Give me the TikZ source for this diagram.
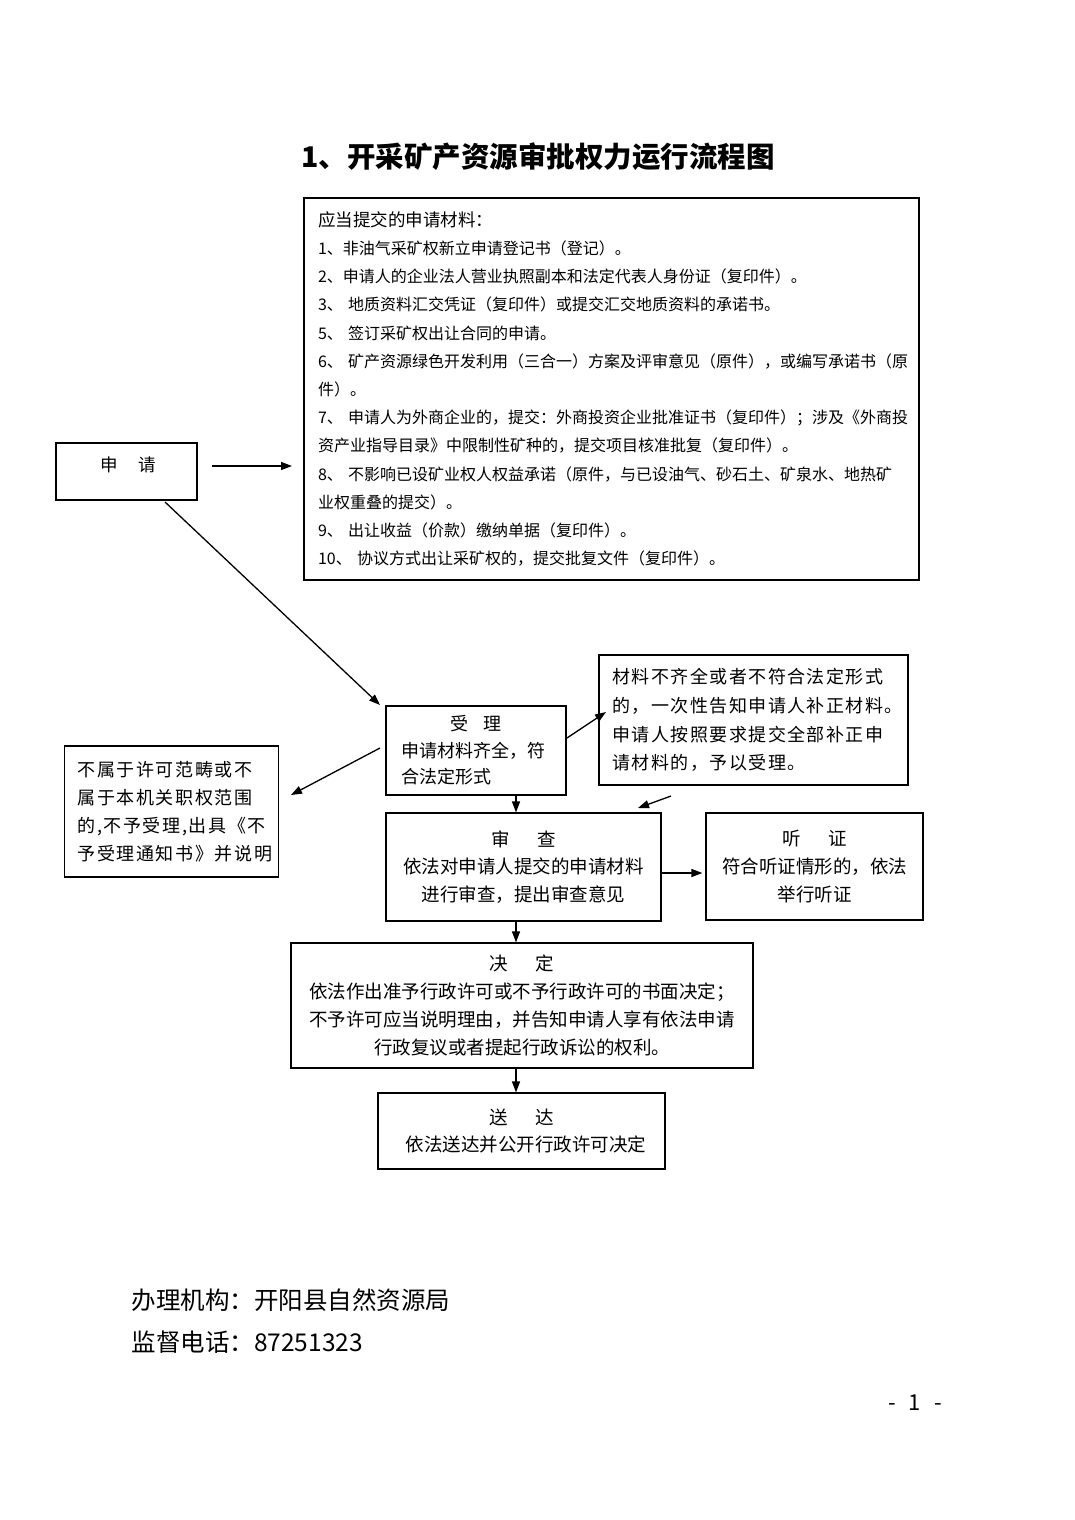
\documentclass[tikz,border=0pt]{standalone}
\usepackage{fontspec}
\setmainfont{Noto Sans CJK SC}
\newfontfamily\spacedA{Noto Sans CJK SC}[LetterSpace=8]
\newfontfamily\spacedB{Noto Sans CJK SC}[LetterSpace=9]
\usetikzlibrary{arrows.meta}
\begin{document}
\begin{tikzpicture}[x=1pt,y=-1pt,
  box/.style={draw, line width=1.2pt, inner sep=0pt},
  arr/.style={-{Triangle[length=11pt,width=8pt]}, line width=1.3pt},
  bodyfont/.style={font=\fontsize{18.5}{27.8}\selectfont}]
\useasboundingbox[fill=white] (0,0) rectangle (1074,1520);

% title
\node[font=\fontsize{28.5}{32}\selectfont\bfseries] (title) at (538,157) {1、开采矿产资源审批权力运行流程图};

% materials box
\node[box, minimum width=615pt, minimum height=382pt, text width=587pt, align=left,
      font=\fontsize{16}{28.2}\selectfont] (mat) at (611.5,389) {%
{\fontsize{17.5}{28.2}\selectfont 应当提交的申请材料：}\\
1、非油气采矿权新立申请登记书（登记）。\\
2、申请人的企业法人营业执照副本和法定代表人身份证（复印件）。\\
3、\ 地质资料汇交凭证（复印件）或提交汇交地质资料的承诺书。\\
5、\ 签订采矿权出让合同的申请。\\
6、\ 矿产资源绿色开发利用（三合一）方案及评审意见（原件），或编写承诺书（原\\
件）。\\
7、\ 申请人为外商企业的，提交：外商投资企业批准证书（复印件）；涉及《外商投\\
资产业指导目录》中限制性矿种的，提交项目核准批复（复印件）。\\
8、\ 不影响已设矿业权人权益承诺（原件，与已设油气、砂石土、矿泉水、地热矿\\
业权重叠的提交）。\\
9、\ 出让收益（价款）缴纳单据（复印件）。\\
10、\ 协议方式出让采矿权的，提交批复文件（复印件）。};

% apply box
\node[box, minimum width=141pt, minimum height=57pt,
      label={[font=\fontsize{17.5}{20}\selectfont, yshift=7pt, xshift=1.5pt]center:申\hspace{1.2em}请}] (sq) at (126.5,471.5) {};

% accept box
\node[box, minimum width=180pt, minimum height=89pt, text width=150pt, align=left,
      font=\fontsize{18}{26.5}\selectfont] (sl) at (476,750.5)
  {\makebox[150pt]{受\hspace{0.8em}理}\\申请材料齐全，符\\合法定形式};

% incomplete materials box
\node[box, minimum width=309pt, minimum height=130pt, text width=282pt, align=left,
      font=\fontsize{18}{28.7}\spacedA] (bz) at (753.5,720)
  {材料不齐全或者不符合法定形式\\的，一次性告知申请人补正材料。\\申请人按照要求提交全部补正申\\请材料的，予以受理。};

% not accepted box
\node[box, minimum width=214pt, minimum height=131pt, text width=188pt, align=left,
      font=\fontsize{18}{28}\spacedB] (bsy) at (171.5,811.5)
  {不属于许可范畴或不\\属于本机关职权范围\\的,不予受理,出具《不\\予受理通知书》并说明};

% review box
\node[box, bodyfont, minimum width=275pt, minimum height=108pt, align=center] (sc) at (523.5,867)
  {审\hspace{1.5em}查\\依法对申请人提交的申请材料\\进行审查，提出审查意见};

% hearing box
\node[box, bodyfont, minimum width=217pt, minimum height=107pt, align=center] (tz) at (814.5,866.5)
  {听\hspace{1.5em}证\\符合听证情形的，依法\\举行听证};

% decision box
\node[box, bodyfont, minimum width=462pt, minimum height=125pt, align=center] (jd) at (522,1005.5)
  {决\hspace{1.5em}定\\依法作出准予行政许可或不予行政许可的书面决定；\\不予许可应当说明理由，并告知申请人享有依法申请\\行政复议或者提起行政诉讼的权利。};

% delivery box
\node[box, bodyfont, minimum width=287pt, minimum height=76pt, align=center] (sd) at (521.5,1131)
  {送\hspace{1.5em}达\\\hspace{0.5em}依法送达并公开行政许可决定};

% connectors
\coordinate (ax) at (516,0);
\coordinate (a1s) at (212,466);
\coordinate (a1e) at (292,466);
\draw[arr] (a1s) -- (a1e);
\coordinate (a2s) at (165,502);
\coordinate (a2e) at (380,705);
\draw[arr] (a2s) -- (a2e);
\coordinate (a3s) at (567,738);
\coordinate (a3e) at (606,712);
\draw[arr] (a3s) -- (a3e);
\coordinate (a4s) at (671,796);
\coordinate (a4e) at (638,808);
\draw[arr] (a4s) -- (a4e);
\coordinate (a5s) at (380,748);
\coordinate (a5e) at (291,795);
\draw[arr] (a5s) -- (a5e);
\draw[arr] (sl.south -| ax) -- (sc.north -| ax);
\draw[arr] ([yshift=-6pt]sc.east) -- ([yshift=-6pt,xshift=-3pt]sc.east -| tz.west);
\draw[arr] (sc.south -| ax) -- (jd.north -| ax);
\draw[arr] (jd.south -| ax) -- (sd.north -| ax);

% footer
\node[anchor=west, font=\fontsize{24.5}{28}\selectfont] (org) at (128,1300) {办理机构：开阳县自然资源局};
\node[anchor=west, font=\fontsize{24.5}{28}\selectfont] (tel) at (128,1342) {监督电话：87251323};
\node[font=\fontsize{22}{26}\selectfont] (pg) at (915,1403) {-\hspace{0.6em}1\hspace{0.6em}-};
\end{tikzpicture}
\end{document}
